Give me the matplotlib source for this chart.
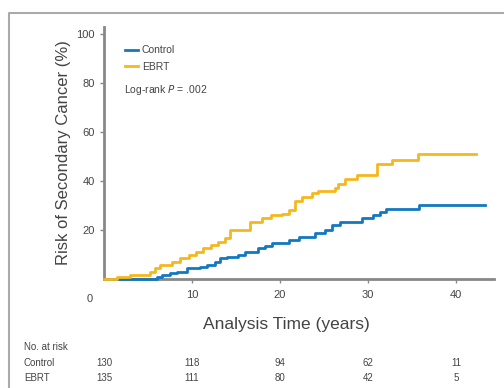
import matplotlib
matplotlib.use("Agg")
import matplotlib.pyplot as plt
from matplotlib.lines import Line2D

# cumulative incidence (years, %)
ctrl_t = [0, 6.0, 6.6, 7.5, 8.3, 9.4, 10.9, 11.7, 12.6, 13.2, 14.0, 15.2, 16.0, 17.5,
          18.3, 19.1, 21.0, 22.2, 24.0, 25.1, 25.9, 26.8, 29.3, 30.5, 31.3, 32.0, 35.8, 43.3]
ctrl_v = [0, 1, 1.6, 2.4, 3, 4.5, 5, 5.7, 7, 8.5, 9, 10, 11, 12.6,
          13.5, 14.7, 16, 17, 18.7, 20, 22, 23.3, 24.9, 26, 27.3, 28.7, 30.2, 30.2]

ebrt_t = [0, 1.5, 3.0, 5.2, 5.8, 6.4, 7.7, 8.6, 9.6, 10.5, 11.3, 12.2, 13.0, 13.8, 14.3,
          16.6, 18.0, 19.0, 20.2, 21.0, 21.7, 22.5, 23.6, 24.3, 26.2, 26.6, 27.4, 28.7,
          31.0, 32.7, 35.7, 42.2]
ebrt_v = [0, 1, 1.6, 3, 4.5, 5.7, 7, 8.5, 9.8, 11, 12.6, 14, 15, 16.7, 20,
          23.4, 25, 26, 26.5, 28, 32, 33.5, 35, 36, 37, 39, 41, 42.5,
          47, 48.6, 51, 51]

risk_times = [0, 10, 20, 30, 40]
risk_ctrl = [130, 118, 94, 62, 11]
risk_ebrt = [135, 111, 80, 42, 5]

blue = "#1279c1"
gold = "#f5b81c"
grey = "#444444"
plt.rcParams["font.family"] = ["Liberation Sans Narrow", "Liberation Sans", "DejaVu Sans"]

fig = plt.figure(figsize=(5.04, 3.88), dpi=100)
ax = fig.add_axes([104 / 504, 109 / 388, 390 / 504, 252 / 388])

ax.step(ctrl_t, ctrl_v, where="post", color=blue, lw=2.0, zorder=3, clip_on=False)
ax.step(ebrt_t, ebrt_v, where="post", color=gold, lw=2.0, zorder=3.1, clip_on=False)

ax.set_xlim(0, 44.3)
ax.set_ylim(0, 103)
ax.set_xticks([10, 20, 30, 40])
ax.set_yticks([20, 40, 60, 80, 100])
for s in ["top", "right"]:
    ax.spines[s].set_visible(False)
for s in ["left", "bottom"]:
    ax.spines[s].set_color("#888888")
    ax.spines[s].set_linewidth(2.0)
ax.tick_params(colors="#888888", labelcolor=grey, labelsize=8, length=3, width=1)
ax.tick_params(axis="x", pad=5)
ax.text(-1.6, -6, "0", ha="center", va="top", fontsize=8, color=grey)

ax.set_ylabel("Risk of Secondary Cancer (%)", fontsize=12, color=grey, labelpad=4)
ax.set_xlabel("Analysis Time (years)", fontsize=12.5, color=grey, labelpad=12)
ax.xaxis.label.set_x(0.467)

handles = [Line2D([], [], color=blue, lw=2.0), Line2D([], [], color=gold, lw=2.0)]
ax.legend(handles, ["Control", "EBRT"], loc="upper left", bbox_to_anchor=(0.03, 0.965),
          frameon=False, fontsize=7.5, handlelength=1.2, handletextpad=0.4,
          labelspacing=0.65, labelcolor=grey)
ax.text(0.05, 0.75, r"Log-rank $\it{P}$ = .002", transform=ax.transAxes,
        fontsize=7.5, color=grey, va="center")

# number at risk table
fig.text(24 / 504, 1 - 347 / 388, "No. at risk", fontsize=7, color=grey, va="center")
fig.text(24 / 504, 1 - 363 / 388, "Control", fontsize=7, color=grey, va="center")
fig.text(24 / 504, 1 - 378 / 388, "EBRT", fontsize=7, color=grey, va="center")
for t, c, e in zip(risk_times, risk_ctrl, risk_ebrt):
    xf = (104 + t * 390 / 44.3) / 504
    fig.text(xf, 1 - 363 / 388, str(c), fontsize=7, color=grey, ha="center", va="center")
    fig.text(xf, 1 - 378 / 388, str(e), fontsize=7, color=grey, ha="center", va="center")

# outer frame
fig.add_artist(Line2D([9 / 504, 9 / 504, 1], [0, 1 - 13 / 388, 1 - 13 / 388],
                      transform=fig.transFigure, color="#aaaaaa", lw=1.5))

fig.savefig("out.png", dpi=100)
